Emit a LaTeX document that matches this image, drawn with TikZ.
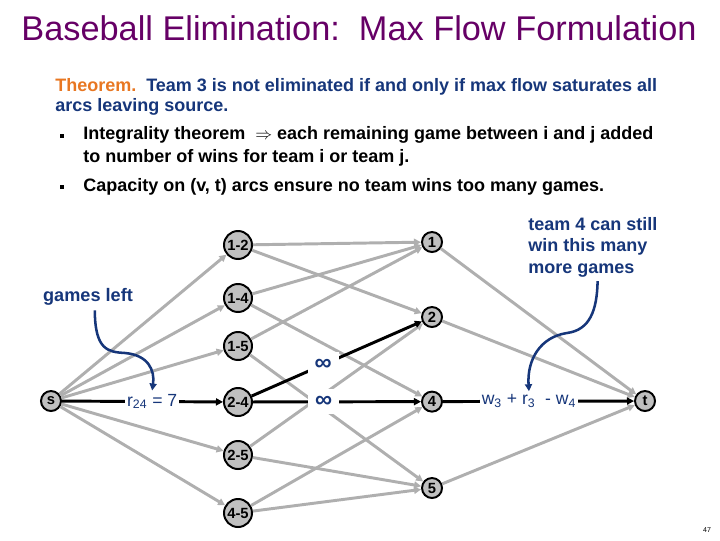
\documentclass[tikz,border=0pt]{standalone}
\usepackage{fontspec}
\setmainfont{Liberation Sans}
\usepackage{amsmath}
\usepackage{amssymb}
\usetikzlibrary{arrows.meta}

\definecolor{titlepurple}{RGB}{102,0,102}
\definecolor{thmorange}{RGB}{232,119,34}
\definecolor{noteblue}{RGB}{22,54,122}
\definecolor{edgegray}{RGB}{175,175,175}
\definecolor{nodegray}{RGB}{192,192,192}

\tikzset{
  game/.style={circle, draw=black, line width=1.4pt, fill=nodegray, inner sep=0pt,
    minimum size=0.7cm, font=\bfseries\fontsize{10.5}{11}\selectfont},
  team/.style={circle, draw=black, line width=1.4pt, fill=nodegray, inner sep=0pt,
    minimum size=0.5cm, font=\bfseries\fontsize{10.5}{11}\selectfont},
  gedge/.style={draw=edgegray, line width=2.1pt, -{Triangle[length=5pt,width=5pt]}},
  bedge/.style={draw=black, line width=2.1pt, -{Triangle[length=5pt,width=5pt]}},
  lab/.style={fill=white, inner sep=1.5pt, text=noteblue, font=\fontsize{12.5}{12.5}\selectfont},
  inf/.style={fill=white, inner sep=5pt, text=noteblue, font=\bfseries\fontsize{17}{17}\selectfont},
  callout/.style={draw=noteblue, line width=1.8pt, -{Triangle[length=5pt,width=5pt]}},
  bodytext/.style={anchor=west, inner sep=0pt, font=\bfseries\fontsize{12.8}{14}\selectfont},
  bulletbox/.style={fill=black, inner sep=0pt, minimum size=2.2pt},
}

\begin{document}
\begin{tikzpicture}[x=0.025cm, y=-0.025cm]
  \useasboundingbox (0,0) rectangle (720,540);

  % heading and text
  \node[text=titlepurple, font=\fontsize{24.4}{24.4}\selectfont] (title) at (359,28)
    {Baseball Elimination:\ \ Max Flow Formulation};
  \node[bodytext, text=noteblue] (thm1) at (55,87)
    {\textcolor{thmorange}{Theorem.}\ \ Team 3 is not eliminated if and only if max flow saturates all};
  \node[bodytext, text=noteblue] (thm2) at (55,107) {arcs leaving source.};
  \node[bulletbox] (b1) at (62,136) {};
  \node[bodytext] (int1) at (83,135)
    {Integrality theorem\ \ $\Rightarrow$ each remaining game between i and j added};
  \node[bodytext] (int2) at (83,158) {to number of wins for team i or team j.};
  \node[bulletbox] (b2) at (62,187) {};
  \node[bodytext] (capline) at (83,187)
    {Capacity on (v, t) arcs ensure no team wins too many games.};

  % network
  \node[team] (s) at (51,401) {s};
  \node[game] (g12) at (238,245) {1-2};
  \node[game] (g14) at (238,298) {1-4};
  \node[game] (g15) at (238,346) {1-5};
  \node[game] (g24) at (238,402) {2-4};
  \node[game] (g25) at (238,455) {2-5};
  \node[game] (g45) at (238,513) {4-5};
  \node[team] (v1) at (432,242) {1};
  \node[team] (v2) at (432,317) {2};
  \node[team] (v4) at (432,401.6) {4};
  \node[team] (v5) at (432,488) {5};
  \node[team] (t) at (645,401) {t};

  \foreach \g in {g12,g14,g15,g25,g45}
    \draw[gedge] (s) -- (\g);
  \draw[gedge] (g12) -- (v1);
  \draw[gedge] (g12) -- (v2);
  \draw[gedge] (g14) -- (v1);
  \draw[gedge] (g14) -- (v4);
  \draw[gedge] (g15) -- (v1);
  \draw[gedge] (g15) -- (v5);
  \draw[gedge] (g25) -- (v2);
  \draw[gedge] (g25) -- (v5);
  \draw[gedge] (g45) -- (v4);
  \draw[gedge] (g45) -- (v5);
  \foreach \v in {v1,v2,v5}
    \draw[gedge] (\v) -- (t);

  \draw[bedge] (s) -- node[lab, pos=0.56] (r24) {r\textsubscript{24} = 7} (g24);
  \draw[bedge] (g24) -- node[inf, pos=0.42] (inf2) {∞} (v2);
  \draw[bedge] (g24) -- node[inf, pos=0.42] (inf4) {∞} (v4);
  \draw[bedge] (v4) -- node[lab, pos=0.45] (caplab)
    {w\textsubscript{3} + r\textsubscript{3}\ \ - w\textsubscript{4}} (t);

  % notes
  \node[text=noteblue, font=\bfseries\fontsize{12.9}{12.9}\selectfont] (left) at (88,297) {games left};
  \node[text=noteblue, align=left, anchor=north west, inner sep=0pt,
    font=\bfseries\fontsize{12.8}{15.2}\selectfont] (more) at (528,217)
    {team 4 can still\\win this many\\more games};
  \draw[callout] ([xshift=0.12cm,yshift=-0.1cm]more.south) .. controls (597,310) and (590,330) .. (567,333)
    .. controls (540,337) and (527,360) .. (caplab.north);
  \draw[callout] ([xshift=0.17cm]left.south) .. controls (95,350) and (108,352) .. (125,353)
    .. controls (148,355) and (155,370) .. (r24.north);

  \node[font=\fontsize{5}{5}\selectfont] (page) at (707,530) {47};
\end{tikzpicture}
\end{document}
